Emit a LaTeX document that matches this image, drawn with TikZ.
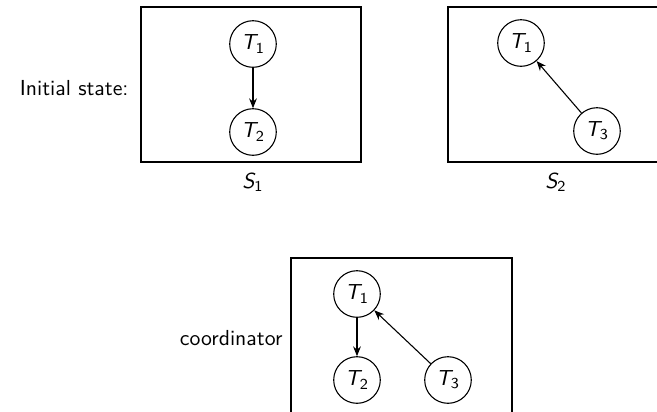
\documentclass[tikz,border=0pt]{standalone}
\usepackage{amsmath}
\usetikzlibrary{arrows.meta}
\newcommand{\Tsym}[2]{$\textsf{\itshape #1}_{\textsf{#2}}$}
\begin{document}
\begin{tikzpicture}[x=0.46pt,y=-0.46pt,
  font=\sffamily,
  line width=0.5pt,
  tnode/.style={draw,circle,minimum size=46.6*0.46pt,inner sep=0pt},
  frame/.style={draw},
  dep/.style={-{Stealth[length=4.5pt,width=3.6pt]}},
  lbl/.style={inner sep=0pt}]
\useasboundingbox (0,0) rectangle (657,411);
\clip (0,0) rectangle (657,411);
% S1
\draw[frame] (141,7) rectangle (361,162);
\node[lbl,anchor=east] (l1) at (129,88) {Initial state:};
\node[tnode] (a1) at (253,44) {\Tsym{T}{1}};
\node[tnode] (a2) at (253,132) {\Tsym{T}{2}};
\node[lbl] (s1) at (253,182) {\Tsym{S}{1}};
\draw[dep] (a1) -- (a2);
% S2
\draw[frame] (448,7) rectangle (668,162);
\node[tnode] (b1) at (521,43) {\Tsym{T}{1}};
\node[tnode] (b3) at (597,131) {\Tsym{T}{3}};
\node[lbl] (s2) at (556,182) {\Tsym{S}{2}};
\draw[dep] (b3) -- (b1);
% coordinator
\draw[frame] (291,258) rectangle (512,440);
\node[lbl,anchor=east] (lc) at (283,338) {coordinator};
\node[tnode] (c1) at (357,294) {\Tsym{T}{1}};
\node[tnode] (c2) at (357,380) {\Tsym{T}{2}};
\node[tnode] (c3) at (448,380) {\Tsym{T}{3}};
\draw[dep] (c1) -- (c2);
\draw[dep] (c3) -- (c1);
\end{tikzpicture}
\end{document}
